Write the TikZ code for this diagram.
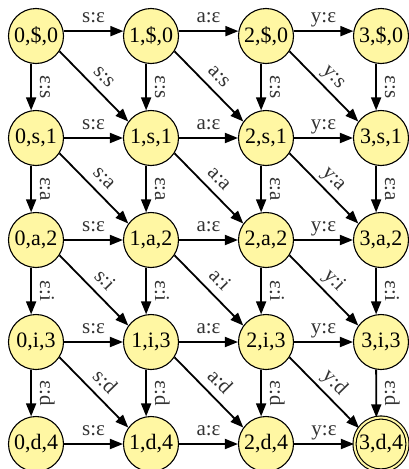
\documentclass[tikz,border=0pt]{standalone}
\usepackage{fontspec}
\setmainfont{Liberation Serif}
\usetikzlibrary{arrows.meta}
\definecolor{Amarillo}{HTML}{FFF7A3}
\definecolor{GrisOscuro}{HTML}{333333}

\begin{document}
\begin{tikzpicture}[
  x=115pt,y=-102pt,
  every node/.style={font=\fontsize{22}{26}\selectfont},
  estado/.style={circle,draw=black,line width=1.1pt,fill=Amarillo,minimum size=55pt,inner sep=0pt},
  final/.style={estado,double=Amarillo,double distance=2pt,minimum size=53pt},
  trans/.style={-{Triangle[length=13pt,width=10pt]},line width=1.8pt},
  etq/.style={sloped,above,inner sep=8pt,text depth=0pt,text=GrisOscuro,font=\fontsize{21}{25}\selectfont},
  etqv/.style={rotate=-90,anchor=south,inner sep=8pt,text depth=0pt,text=GrisOscuro,font=\fontsize{21}{25}\selectfont}
]
  \useasboundingbox (-36pt,36pt) rectangle (373pt,-433pt);

  \node[estado] (q00) at (0,0) {0,\$,0};
  \node[estado] (q10) at (1,0) {1,\$,0};
  \node[estado] (q20) at (2,0) {2,\$,0};
  \node[estado] (q30) at (3,0) {3,\$,0};
  \node[estado] (q01) at (0,1) {0,s,1};
  \node[estado] (q11) at (1,1) {1,s,1};
  \node[estado] (q21) at (2,1) {2,s,1};
  \node[estado] (q31) at (3,1) {3,s,1};
  \node[estado] (q02) at (0,2) {0,a,2};
  \node[estado] (q12) at (1,2) {1,a,2};
  \node[estado] (q22) at (2,2) {2,a,2};
  \node[estado] (q32) at (3,2) {3,a,2};
  \node[estado] (q03) at (0,3) {0,i,3};
  \node[estado] (q13) at (1,3) {1,i,3};
  \node[estado] (q23) at (2,3) {2,i,3};
  \node[estado] (q33) at (3,3) {3,i,3};
  \node[estado] (q04) at (0,4) {0,d,4};
  \node[estado] (q14) at (1,4) {1,d,4};
  \node[estado] (q24) at (2,4) {2,d,4};
  \node[final]  (q34) at (3,4) {3,d,4};

  \draw[trans] (q00.10) -- node[etq] {s:ε} (q10.170);
  \draw[trans] (q10.10) -- node[etq] {a:ε} (q20.170);
  \draw[trans] (q20.10) -- node[etq] {y:ε} (q30.170);
  \draw[trans] (q01) -- node[etq] {s:ε} (q11);
  \draw[trans] (q11) -- node[etq] {a:ε} (q21);
  \draw[trans] (q21) -- node[etq] {y:ε} (q31);
  \draw[trans] (q02) -- node[etq] {s:ε} (q12);
  \draw[trans] (q12) -- node[etq] {a:ε} (q22);
  \draw[trans] (q22) -- node[etq] {y:ε} (q32);
  \draw[trans] (q03) -- node[etq] {s:ε} (q13);
  \draw[trans] (q13) -- node[etq] {a:ε} (q23);
  \draw[trans] (q23) -- node[etq] {y:ε} (q33);
  \draw[trans] (q04) -- node[etq] {s:ε} (q14);
  \draw[trans] (q14) -- node[etq] {a:ε} (q24);
  \draw[trans] (q24) -- node[etq] {y:ε} (q34);

  \draw[trans] (q00.-100) -- node[etqv] {ε:s} (q01.100);
  \draw[trans] (q01.-100) -- node[etqv] {ε:a} (q02.100);
  \draw[trans] (q02.-100) -- node[etqv] {ε:i} (q03.100);
  \draw[trans] (q03.-100) -- node[etqv] {ε:d} (q04.100);
  \draw[trans] (q10.-100) -- node[etqv] {ε:s} (q11.100);
  \draw[trans] (q11.-100) -- node[etqv] {ε:a} (q12.100);
  \draw[trans] (q12.-100) -- node[etqv] {ε:i} (q13.100);
  \draw[trans] (q13.-100) -- node[etqv] {ε:d} (q14.100);
  \draw[trans] (q20.-100) -- node[etqv] {ε:s} (q21.100);
  \draw[trans] (q21.-100) -- node[etqv] {ε:a} (q22.100);
  \draw[trans] (q22.-100) -- node[etqv] {ε:i} (q23.100);
  \draw[trans] (q23.-100) -- node[etqv] {ε:d} (q24.100);
  \draw[trans] (q30.-100) -- node[etqv] {ε:s} (q31.100);
  \draw[trans] (q31.-100) -- node[etqv] {ε:a} (q32.100);
  \draw[trans] (q32.-100) -- node[etqv] {ε:i} (q33.100);
  \draw[trans] (q33.-100) -- node[etqv] {ε:d} (q34.100);

  \draw[trans] (q00.-33) -- node[etq] {s:s} (q11.144);
  \draw[trans] (q10.-33) -- node[etq] {a:s} (q21.144);
  \draw[trans] (q20.-33) -- node[etq] {y:s} (q31.144);
  \draw[trans] (q01.-33) -- node[etq] {s:a} (q12.144);
  \draw[trans] (q11.-33) -- node[etq] {a:a} (q22.144);
  \draw[trans] (q21.-33) -- node[etq] {y:a} (q32.144);
  \draw[trans] (q02.-33) -- node[etq] {s:i} (q13.144);
  \draw[trans] (q12.-33) -- node[etq] {a:i} (q23.144);
  \draw[trans] (q22.-33) -- node[etq] {y:i} (q33.144);
  \draw[trans] (q03.-33) -- node[etq] {s:d} (q14.144);
  \draw[trans] (q13.-33) -- node[etq] {a:d} (q24.144);
  \draw[trans] (q23.-33) -- node[etq] {y:d} (q34.144);
\end{tikzpicture}
\end{document}
